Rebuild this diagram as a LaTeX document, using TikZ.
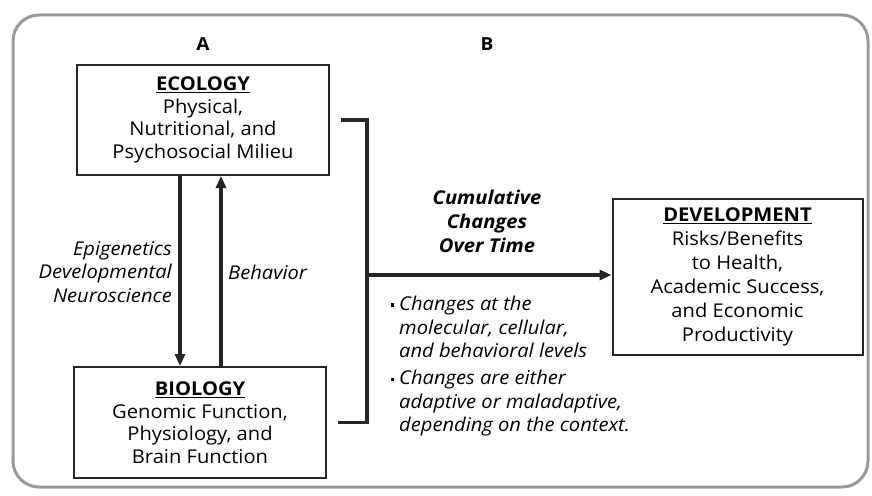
\documentclass[tikz,border=0pt]{standalone}
\usepackage{fontspec}
\setmainfont{Open Sans}[FakeStretch=1.06]
\usetikzlibrary{arrows.meta}

\begin{document}
\begin{tikzpicture}[x=1pt, y=-1pt,
    box/.style={draw=black!85, line width=2pt, align=center, inner sep=0pt, font=\fontsize{19}{22.5}\selectfont},
    note/.style={inner sep=0pt, font=\fontsize{19}{23.5}\selectfont\itshape},
    link/.style={draw=black!85, line width=3.2pt},
    tip/.style={-{Triangle[length=12pt, width=10pt]}}]
        \useasboundingbox (0,0) rectangle (872,495);
        \draw[black!40, line width=3pt, rounded corners=26pt] (13,15) rectangle (868,487);

        \node (pa) [font=\fontsize{18}{18}\selectfont\bfseries] at (203, 44) {A};
        \node (pb) [font=\fontsize{18}{18}\selectfont\bfseries] at (487, 44) {B};

        \node (eco) [box, minimum width=252, minimum height=110] at (203, 120)
            {\underline{\textbf{ECOLOGY}}\\Physical,\\Nutritional, and\\Psychosocial Milieu};
        \node (bio) [box, minimum width=252, minimum height=111] at (200, 422.5)
            {\underline{\textbf{BIOLOGY}}\\Genomic Function,\\Physiology, and\\Brain Function};
        \node (dev) [box, minimum width=250, minimum height=156, font=\fontsize{19}{24}\selectfont] at (737.5, 277)
            {\underline{\textbf{DEVELOPMENT}}\\Risks/Benefits\\to Health,\\Academic Success,\\and Economic\\Productivity};

        \node (epi) [note, anchor=east, align=right] at (172, 272) {Epigenetics\\Developmental\\Neuroscience};
        \node (beh) [note, anchor=west] at (228, 272) {Behavior};
        \node (cum) [note, align=center, font=\fontsize{19}{24}\selectfont\bfseries\itshape] at (487, 221)
            {Cumulative\\Changes\\Over Time};
        \node (b1) [note, anchor=west, align=left] at (399, 327)
            {\llap{\rule[4pt]{3.2pt}{3.2pt}\hspace{5pt}}Changes at the\\molecular, cellular,\\and behavioral levels};
        \node (b2) [note, anchor=west, align=left] at (399, 403.5)
            {\llap{\rule[4pt]{3.2pt}{3.2pt}\hspace{5pt}}Changes are either\\adaptive or maladaptive,\\depending on the context.};

        \coordinate (jn) at (367, 275);

        \draw[link, tip] ([xshift=-23pt]eco.south) -- ([xshift=-20pt]bio.north);
        \draw[link, tip] ([xshift=21pt]bio.north) -- ([xshift=18pt]eco.south);
        \draw[link] ([xshift=11pt]eco.east) -| (jn) |- ([xshift=11pt]bio.east);
        \draw[link, tip] (jn) -- (jn -| dev.west);
\end{tikzpicture}
\end{document}
